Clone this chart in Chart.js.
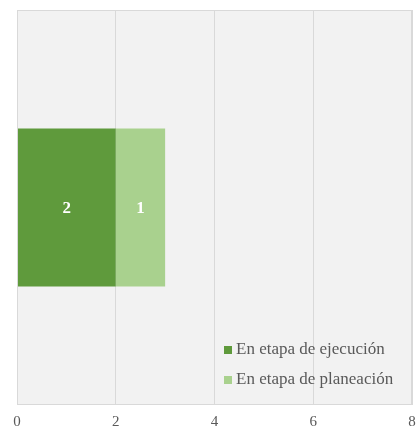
<!DOCTYPE html>
<html>
<head>
<meta charset="utf-8">
<script src="https://cdn.jsdelivr.net/npm/chart.js@4.4.1/dist/chart.umd.min.js"></script>
<style>
  html, body { margin: 0; padding: 0; background: #ffffff; }
  #wrap { width: 416px; height: 429px; position: relative; }
</style>
</head>
<body>
<div id="wrap"><canvas id="chart"></canvas></div>
<script>
const categories = [""];
const seriesNames = ["En etapa de ejecución", "En etapa de planeación"];
const ejecucion = [2];
const planeacion = [1];
const xTicks = [0, 2, 4, 6, 8];

const FONT = "'Liberation Serif', 'DejaVu Serif', serif";
const TEXT_COLOR = "#595959";
const GRID_COLOR = "#d9d9d9";

const plotBackground = {
  id: "plotBackground",
  beforeDraw(chart) {
    const { ctx, chartArea: a } = chart;
    ctx.save();
    ctx.fillStyle = "#f2f2f2";
    ctx.fillRect(a.left, a.top, a.right - a.left, a.bottom - a.top);
    ctx.restore();
  },
  afterDraw(chart) {
    const { ctx, chartArea: a } = chart;
    ctx.save();
    ctx.strokeStyle = GRID_COLOR;
    ctx.lineWidth = 1;
    ctx.strokeRect(a.left + 0.5, a.top + 0.5, a.right - a.left - 1, a.bottom - a.top - 1);
    ctx.restore();
  }
};

const barLabels = {
  id: "barLabels",
  afterDatasetsDraw(chart) {
    const { ctx } = chart;
    ctx.save();
    ctx.fillStyle = "#ffffff";
    ctx.font = "bold 17px " + FONT;
    ctx.textAlign = "center";
    ctx.textBaseline = "middle";
    chart.data.datasets.forEach((ds, i) => {
      chart.getDatasetMeta(i).data.forEach((bar, j) => {
        const p = bar.getProps(["x", "y", "base"], true);
        ctx.fillText(String(ds.data[j]), (p.x + p.base) / 2, p.y + 1);
      });
    });
    ctx.restore();
  }
};

const innerLegend = {
  id: "innerLegend",
  afterDraw(chart) {
    const { ctx } = chart;
    ctx.save();
    ctx.font = "17px " + FONT;
    ctx.textBaseline = "middle";
    chart.data.datasets.forEach((ds, i) => {
      const y = 350 + i * 30;
      ctx.fillStyle = ds.backgroundColor;
      ctx.fillRect(224, y - 4, 8, 8);
      ctx.fillStyle = TEXT_COLOR;
      ctx.fillText(ds.label, 236, y);
    });
    ctx.restore();
  }
};

new Chart(document.getElementById("chart"), {
  type: "bar",
  data: {
    labels: categories,
    datasets: [
      { label: seriesNames[0], data: ejecucion, backgroundColor: "#5f9a3c" },
      { label: seriesNames[1], data: planeacion, backgroundColor: "#a9d18e" }
    ]
  },
  options: {
    indexAxis: "y",
    responsive: true,
    maintainAspectRatio: false,
    animation: false,
    layout: { padding: { left: 17, right: 0, top: 10, bottom: 0 } },
    datasets: { bar: { barPercentage: 0.4, categoryPercentage: 1 } },
    plugins: { legend: { display: false }, tooltip: { enabled: false } },
    scales: {
      x: {
        stacked: true,
        min: 0,
        max: 8,
        afterBuildTicks(scale) {
          scale.ticks = xTicks.map((v) => ({ value: v }));
        },
        afterFit(scale) { scale.height = 24; scale.paddingRight = 4; },
        grid: { color: GRID_COLOR, drawTicks: false },
        border: { display: false },
        ticks: { color: TEXT_COLOR, font: { family: FONT, size: 15 }, padding: 8 }
      },
      y: {
        stacked: true,
        display: false
      }
    }
  },
  plugins: [plotBackground, barLabels, innerLegend]
});
</script>
</body>
</html>
